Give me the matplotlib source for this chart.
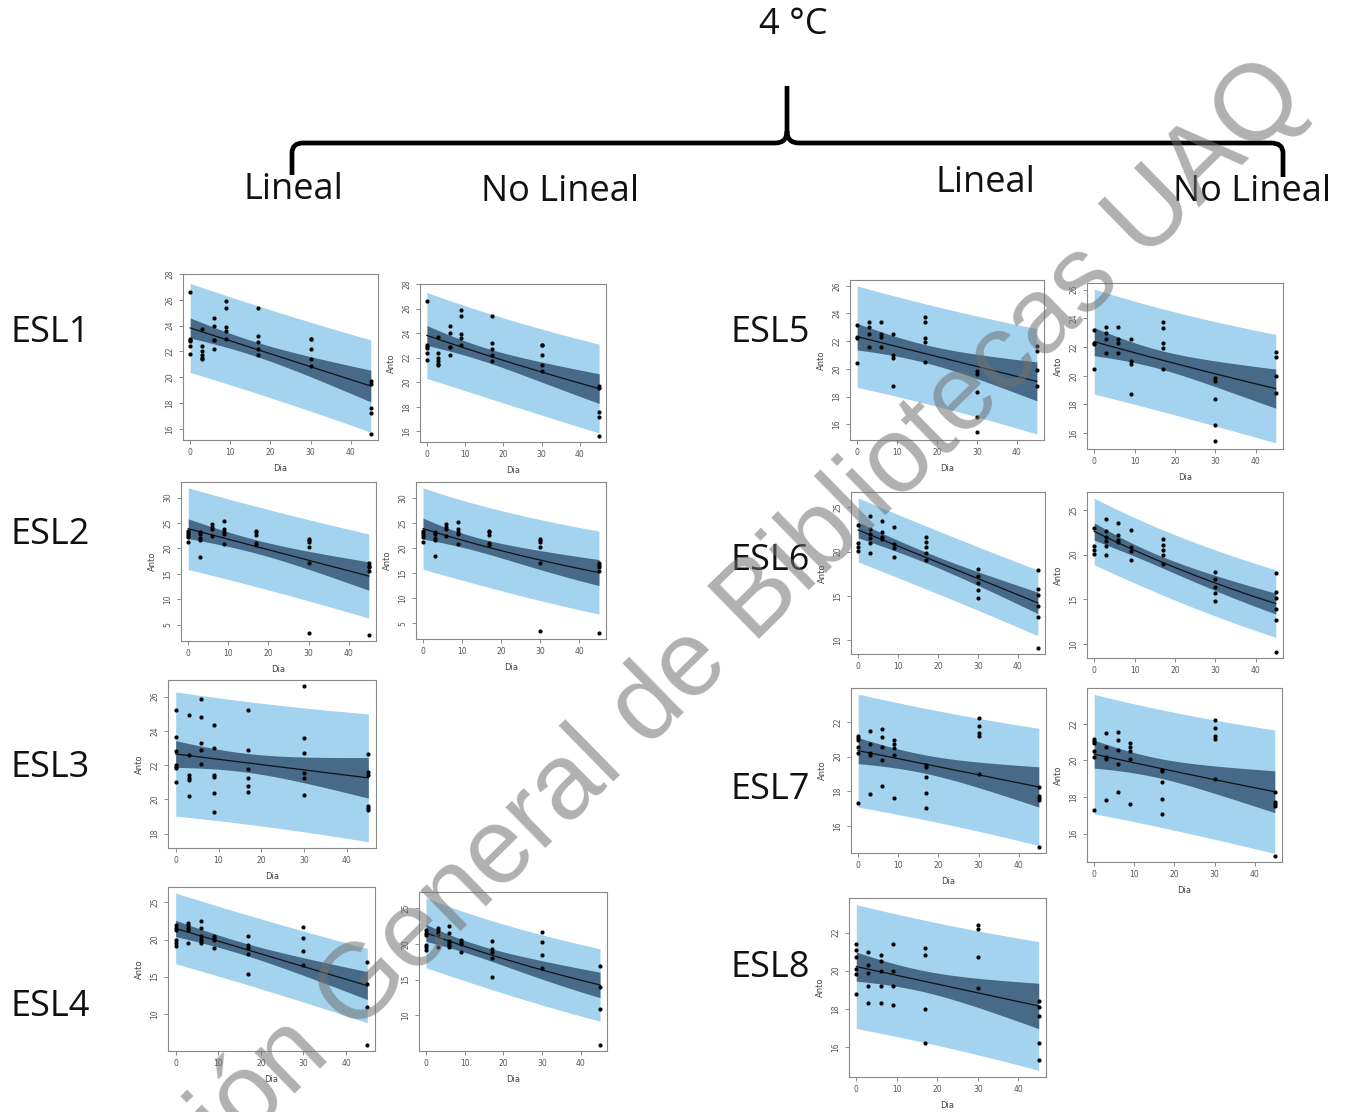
import numpy as np
import matplotlib.pyplot as plt
from matplotlib.path import Path
from matplotlib.patches import PathPatch

W, H = 1353, 1112

# sampling days (x) shared by every series
DAYS = [0, 3, 6, 9, 17, 30, 45]

# Anto values read per day group
esl1 = [[26.6, 23.0, 22.9, 22.8, 22.4, 21.8],
        [23.7, 22.4, 22.0, 21.7, 21.5, 21.4],
        [24.6, 24.0, 22.9, 22.9, 22.2],
        [25.9, 25.4, 23.9, 23.6, 23.0],
        [25.4, 23.2, 22.7, 22.2, 21.7],
        [23.0, 23.0, 22.2, 21.4, 20.9],
        [19.7, 19.5, 17.6, 17.2, 15.6]]
esl2 = [[23.4, 23.0, 22.6, 22.2, 21.2],
        [23.3, 22.9, 22.1, 21.6, 18.4],
        [24.8, 24.3, 23.9, 22.4],
        [25.3, 23.9, 23.2, 22.9, 20.8],
        [23.5, 23.2, 22.6, 21.0, 20.6],
        [21.9, 21.6, 21.3, 20.3, 17.1, 3.5],
        [17.1, 16.6, 16.3, 15.5, 3.0]]
esl3 = [[25.2, 23.65, 22.8, 22.0, 21.9, 21.8, 21.0],
        [24.9, 22.6, 21.4, 21.25, 21.1, 20.2],
        [25.85, 24.8, 23.3, 22.9, 22.05],
        [24.35, 23.0, 21.4, 21.3, 20.35, 19.25],
        [25.2, 22.9, 21.75, 21.25, 20.8, 20.45],
        [26.6, 23.6, 22.7, 21.55, 21.25, 20.25],
        [22.65, 21.6, 21.4, 19.6, 19.5, 19.4]]
esl4 = [[21.95, 21.6, 21.3, 19.9, 19.55, 19.15],
        [22.2, 21.9, 21.6, 21.3, 19.6],
        [22.5, 21.6, 20.45, 20.1, 19.8, 19.6],
        [20.55, 20.2, 20.0, 18.8],
        [20.45, 19.3, 18.9, 18.0, 15.35],
        [21.7, 20.2, 18.5, 16.6],
        [16.95, 14.0, 10.9, 5.8]]
esl5 = [[23.2, 22.3, 22.2, 20.45],
        [23.4, 23.0, 22.55, 21.55],
        [23.4, 22.55, 22.3, 21.55],
        [22.55, 21.0, 20.8, 18.75],
        [23.75, 23.35, 22.25, 21.95, 20.5],
        [19.85, 19.6, 18.35, 16.55, 15.45],
        [21.65, 21.3, 19.95, 18.8]]
esl6 = [[23.0, 20.95, 20.5, 20.05],
        [24.0, 22.6, 22.0, 21.5, 21.0, 19.9],
        [23.5, 22.25, 21.6, 21.4],
        [22.8, 20.85, 20.4, 19.4],
        [21.7, 21.1, 20.5, 19.9, 19.0],
        [18.0, 17.25, 16.4, 15.65, 14.8],
        [17.9, 15.8, 15.1, 13.9, 12.65, 9.1]]
esl7 = [[21.18, 21.08, 20.95, 20.54, 20.18, 17.3],
        [21.5, 20.72, 20.18, 20.1, 17.86],
        [21.56, 21.1, 20.56, 19.8, 18.3],
        [20.93, 20.75, 20.5, 20.07, 17.6],
        [19.5, 19.4, 18.8, 17.9, 17.05],
        [22.2, 21.75, 21.33, 21.18, 18.97],
        [18.27, 17.73, 17.63, 17.5, 14.8]]
esl8 = [[21.4, 21.1, 20.7, 20.1, 19.8, 18.8],
        [21.0, 20.3, 19.9, 19.2, 18.3],
        [20.8, 20.5, 20.0, 19.2, 18.3],
        [21.4, 20.0, 19.2, 18.2],
        [21.2, 20.8, 18.0, 16.2],
        [22.4, 22.2, 20.7, 19.1],
        [18.4, 18.1, 17.6, 16.2, 15.3]]

# y tick labels for each data set
ticks1 = [16, 18, 20, 22, 24, 26, 28]
ticks2 = [5, 10, 15, 20, 25, 30]
ticks3 = [18, 20, 22, 24, 26]
ticks4 = [10, 15, 20, 25]
ticks5 = [16, 18, 20, 22, 24, 26]
ticks6 = [10, 15, 20, 25]
ticks7 = [16, 18, 20, 22]
ticks8 = [16, 18, 20, 22]


def model(p, x, kind):
    if kind == 'lin':
        return p[0] + p[1] * x
    return p[0] * np.exp(p[1] * x)


def jac(p, x, kind):
    if kind == 'lin':
        return np.column_stack([np.ones_like(x), x])
    e = np.exp(p[1] * x)
    return np.column_stack([e, p[0] * x * e])


def fit_bands(groups, kind):
    x = np.concatenate([[d] * len(g) for d, g in zip(DAYS, groups)]).astype(float)
    y = np.concatenate(groups).astype(float)
    if kind == 'lin':
        p = np.linalg.lstsq(jac(None, x, kind), y, rcond=None)[0]
    else:
        b, la = np.polyfit(x, np.log(y), 1)
        p = np.array([np.exp(la), b])
        for _ in range(60):
            r = y - model(p, x, kind)
            p = p + np.linalg.lstsq(jac(p, x, kind), r, rcond=None)[0]
    r = y - model(p, x, kind)
    s2 = np.sum(r ** 2) / (len(y) - 2)
    J = jac(p, x, kind)
    C = s2 * np.linalg.inv(J.T @ J)
    xs = np.linspace(0, 45, 120)
    Jg = jac(p, xs, kind)
    se = np.sqrt(np.einsum('ij,jk,ik->i', Jg, C, Jg))
    f = model(p, xs, kind)
    t = 2.01
    return x, y, xs, f, t * se, t * np.sqrt(s2 + se ** 2)


fig = plt.figure(figsize=(W / 100, H / 100), dpi=100)


def panel(groups, kind, box, yt, ylab=True, xlab=True):
    l, t, r, b = box
    ax = fig.add_axes([l / W, 1 - b / H, (r - l) / W, (b - t) / H])
    x, y, xs, f, ci, pi = fit_bands(groups, kind)
    ax.fill_between(xs, f - pi, f + pi, color='#a3d3ee', lw=0)
    ax.fill_between(xs, f - ci, f + ci, color='#476a88', lw=0)
    ax.plot(xs, f, color='#111111', lw=0.9)
    ax.scatter(x, y, s=9, color='black', zorder=3, lw=0)
    lo = min(y.min(), (f - pi).min())
    hi = max(y.max(), (f + pi).max())
    pad = 0.04 * (hi - lo)
    ax.set_ylim(lo - pad, hi + pad)
    ax.set_xlim(-1.8, 46.8)
    ax.set_xticks([0, 10, 20, 30, 40])
    ax.set_yticks(yt)
    ax.tick_params(direction='out', length=3, width=0.6, color='#777777',
                   labelsize=5.5, labelcolor='#555555', pad=3)
    for lab in ax.get_yticklabels():
        lab.set_rotation(90)
        lab.set_va('center')
    for s in ax.spines.values():
        s.set_color('#888888')
        s.set_linewidth(0.8)
    if xlab:
        ax.set_xlabel('Dia', fontsize=6, color='#444444', labelpad=5)
    if ylab:
        ax.set_ylabel('Anto', fontsize=6, color='#444444', labelpad=5)
    return ax


panel(esl1, 'lin', (183, 274, 378, 440), ticks1, ylab=False)
panel(esl1, 'exp', (420, 284, 606, 442), ticks1)
panel(esl2, 'lin', (181, 482, 376, 641), ticks2)
panel(esl2, 'exp', (416, 482, 606, 639), ticks2)
panel(esl3, 'lin', (168, 680, 376, 848), ticks3)
panel(esl4, 'lin', (168, 887, 375, 1051), ticks4)
panel(esl4, 'exp', (419, 892, 607, 1051), ticks4, ylab=False)
panel(esl5, 'lin', (850, 280, 1044, 440), ticks5)
panel(esl5, 'exp', (1087, 283, 1283, 449), ticks5)
panel(esl6, 'lin', (851, 492, 1045, 654), ticks6, xlab=False)
panel(esl6, 'exp', (1087, 492, 1283, 658), ticks6, xlab=False)
panel(esl7, 'lin', (851, 688, 1046, 853), ticks7)
panel(esl7, 'exp', (1087, 688, 1282, 862), ticks7)
panel(esl8, 'lin', (849, 898, 1046, 1077), ticks8)

# overlay in pixel coordinates for headings, brace and watermark
ov = fig.add_axes([0, 0, 1, 1], facecolor='none')
ov.set_xlim(0, W)
ov.set_ylim(H, 0)
ov.axis('off')

head = dict(family=['Open Sans', 'DejaVu Sans'], color='#111111',
            ha='center', va='center')
ov.text(793, 25, '4 °C', fontsize=26, **head)
ov.text(293, 190, 'Lineal', fontsize=26, **head)
ov.text(560, 192, 'No Lineal', fontsize=26, **head)
ov.text(985, 183, 'Lineal', fontsize=26, **head)
ov.text(1252, 192, 'No Lineal', fontsize=26, **head)
for lab, (px, py) in [('ESL1', (50, 333)), ('ESL2', (50, 535)),
                      ('ESL3', (50, 768)), ('ESL4', (50, 1007)),
                      ('ESL5', (770, 333)), ('ESL6', (770, 561)),
                      ('ESL7', (770, 790)), ('ESL8', (770, 968))]:
    ov.text(px, py, lab, fontsize=26, **head)

verts = [(292, 175), (292, 153), (292, 143), (303, 143), (775, 143),
         (787, 143), (787, 131), (787, 86),
         (787, 131), (787, 143), (799, 143), (1271, 143),
         (1283, 143), (1283, 153), (1283, 177)]
codes = [Path.MOVETO, Path.LINETO, Path.CURVE3, Path.CURVE3, Path.LINETO,
         Path.CURVE3, Path.CURVE3, Path.LINETO,
         Path.MOVETO, Path.CURVE3, Path.CURVE3, Path.LINETO,
         Path.CURVE3, Path.CURVE3, Path.LINETO]
ov.add_patch(PathPatch(Path(verts, codes), fill=False, lw=3.4,
                       edgecolor='black', capstyle='butt'))

ov.text(1310, 100, 'Dirección General de Bibliotecas UAQ', fontsize=77,
        family='Liberation Sans', color='#707070', alpha=0.55,
        rotation=44.4, rotation_mode='anchor', ha='right', va='baseline')

fig.savefig('out.png', dpi=100)
